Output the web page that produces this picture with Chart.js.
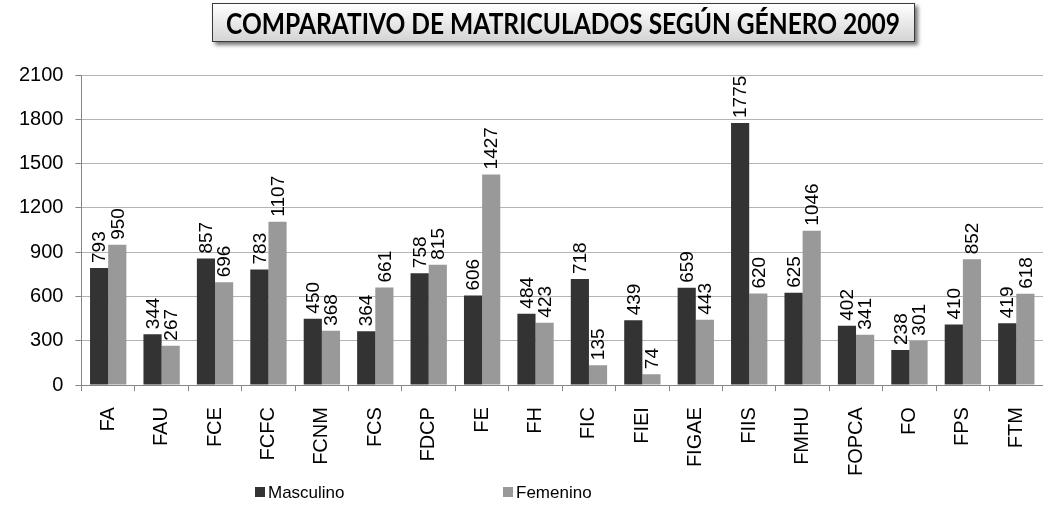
<!DOCTYPE html>
<html>
<head>
<meta charset="utf-8">
<script src="https://cdn.jsdelivr.net/npm/chart.js@4.4.0/dist/chart.umd.min.js"></script>
<style>
  html,body{margin:0;padding:0;background:#fff;}
  #wrap{position:relative;width:1043px;height:508px;}
  #title{position:absolute;left:212px;top:3px;width:701px;height:37px;border:1px solid #3a3a3a;
    background:linear-gradient(#ffffff,#d4d4d4);box-shadow:3px 3px 4px rgba(0,0,0,0.55);
    display:flex;align-items:center;justify-content:center;overflow:hidden;}
  #title span{font-family:Lato,"Open Sans",sans-serif;font-weight:bold;font-size:29px;color:#000;white-space:nowrap;display:inline-block;transform-origin:center;}
  canvas{position:absolute;left:0;top:0;}
</style>
</head>
<body>
<div id="wrap">
  <canvas id="c" width="1043" height="508"></canvas>
  <div id="title"><span id="tt">COMPARATIVO DE MATRICULADOS SEGÚN GÉNERO 2009</span></div>
</div>
<script>
const categories = ["FA","FAU","FCE","FCFC","FCNM","FCS","FDCP","FE","FH","FIC","FIEI","FIGAE","FIIS","FMHU","FOPCA","FO","FPS","FTM"];
const masculino = [793,344,857,783,450,364,758,606,484,718,439,659,1775,625,402,238,410,419];
const femenino  = [950,267,696,1107,368,661,815,1427,423,135,74,443,620,1046,341,301,852,618];
const seriesNames = ["Masculino","Femenino"];
const yTicks = [0,300,600,900,1200,1500,1800,2100];

// fit title text width
(function(){
  const s = document.getElementById('tt');
  const w = s.getBoundingClientRect().width;
  s.style.transform = 'scaleX(' + (674 / w) + ')';
})();

const FONT = "'Liberation Sans', Arial, sans-serif";
const colors = ['#333333', '#999999'];

const valueLabels = {
  id: 'valueLabels',
  afterDatasetsDraw(chart) {
    const ctx = chart.ctx;
    ctx.save();
    ctx.font = '19px ' + FONT;
    ctx.fillStyle = '#000';
    chart.data.datasets.forEach((ds, i) => {
      const meta = chart.getDatasetMeta(i);
      meta.data.forEach((bar, j) => {
        ctx.save();
        ctx.translate(bar.x + 1, bar.y - 5);
        ctx.rotate(-Math.PI / 2);
        ctx.textAlign = 'left';
        ctx.textBaseline = 'middle';
        ctx.fillText(String(ds.data[j]), 0, 0);
        ctx.restore();
      });
    });
    ctx.restore();
  }
};

const customLegend = {
  id: 'customLegend',
  afterDraw(chart) {
    const ctx = chart.ctx;
    const xs = [255, 503];
    const y = 492;
    ctx.save();
    ctx.font = '17px ' + FONT;
    ctx.textBaseline = 'middle';
    ctx.textAlign = 'left';
    chart.data.datasets.forEach((ds, i) => {
      ctx.fillStyle = ds.backgroundColor;
      ctx.fillRect(xs[i], y - 5, 10, 10);
      ctx.fillStyle = '#000';
      ctx.fillText(ds.label, xs[i] + 13, y + 1);
    });
    ctx.restore();
  }
};

new Chart(document.getElementById('c'), {
  type: 'bar',
  data: {
    labels: categories,
    datasets: [
      { label: seriesNames[0], data: masculino, backgroundColor: colors[0] },
      { label: seriesNames[1], data: femenino, backgroundColor: colors[1] }
    ]
  },
  options: {
    responsive: false,
    animation: false,
    devicePixelRatio: 1,
    layout: { padding: { top: 75, left: 7, right: 0, bottom: 16 } },
    datasets: { bar: { categoryPercentage: 0.68, barPercentage: 1.0 } },
    plugins: {
      legend: { display: false },
      title: { display: false },
      tooltip: { enabled: false }
    },
    scales: {
      x: {
        offset: true,
        afterFit(scale) { scale.paddingRight = 0; scale.paddingLeft = 0; },
        grid: { display: true, drawOnChartArea: false, drawTicks: true, tickLength: 6, color: '#868686', offset: true },
        border: { color: '#868686', width: 1 },
        ticks: { font: { family: FONT, size: 20 }, color: '#000', minRotation: 90, maxRotation: 90, padding: 16, autoSkip: false }
      },
      y: {
        min: 0, max: 2100,
        afterBuildTicks(axis) { axis.ticks = yTicks.map(v => ({ value: v })); },
        grid: { color: '#b4b4b4', lineWidth: 1, drawTicks: true, tickLength: 6, tickColor: '#868686' },
        border: { color: '#868686', width: 1 },
        ticks: { font: { family: FONT, size: 20 }, color: '#000', padding: 12, callback: (v) => String(v) }
      }
    }
  },
  plugins: [valueLabels, customLegend]
});
</script>
</body>
</html>
